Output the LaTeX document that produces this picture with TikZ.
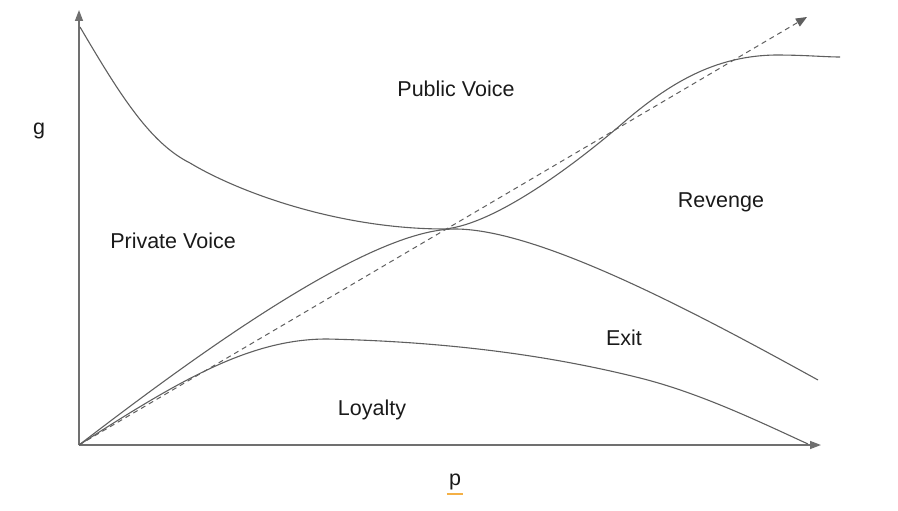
\documentclass[tikz,border=0pt]{standalone}
\usepackage{fontspec}
\setmainfont{Liberation Sans}
\usetikzlibrary{arrows.meta}
\definecolor{linegray}{HTML}{5F5F5F}
\definecolor{axisgray}{HTML}{707070}
\definecolor{txt}{HTML}{1A1A1A}
\definecolor{uline}{HTML}{F4B046}
\tikzset{
  axis/.style={draw=axisgray, line width=1.4pt, -{Triangle[length=11pt,width=8pt]}},
  curve/.style={draw=linegray, line width=1.1pt},
  diag/.style={draw=linegray, line width=1pt, dash pattern=on 5pt off 4pt, -{Triangle[length=11pt,width=9pt]}},
  lbl/.style={text=txt, font=\fontsize{21.5}{24}\selectfont, inner sep=0pt}
}
\begin{document}
\begin{tikzpicture}[x=1pt,y=-1pt]
\useasboundingbox (0,0) rectangle (898,511);
\coordinate (O) at (79,445);
\coordinate (ytop) at (79,10);
\coordinate (xend) at (821,445);
\coordinate (dend) at (807,17);
\coordinate (M) at (445,229);
\draw[axis] (O) -- (ytop);
\draw[axis] (O) -- (xend);
\draw[diag] (O) -- (dend);
% curve A: top-left descending to meeting point, then rising
\draw[curve] (80,27) .. controls (120,95) and (150,143) .. (190,163)
  .. controls (240,193) and (340,229) .. (M)
  .. controls (495,224) and (573,166) .. (623,123)
  .. controls (675,78) and (720,56) .. (775,55)
  .. controls (805,55) and (825,57) .. (840,57);
% curve B: origin to hump, then descending
\draw[curve] (O) .. controls (200,352) and (370,229) .. (455,229)
  .. controls (540,229) and (700,315) .. (818,380);
% curve C: loyalty boundary
\draw[curve] (O) .. controls (180,380) and (250,339) .. (327,339)
  .. controls (460,342) and (560,358) .. (640,378)
  .. controls (700,393) and (760,422) .. (808,444);
\node[lbl] (g) at (39,131) {g};
\node[lbl] (pub) at (456,89) {Public Voice};
\node[lbl] (priv) at (173,241) {Private Voice};
\node[lbl] (rev) at (721,202) {Revenge};
\node[lbl] (exit) at (624,338) {Exit};
\node[lbl] (loy) at (372,410) {Loyalty};
\node[lbl] (p) at (455,482) {p};
\draw[uline, line width=2pt] ([xshift=-2pt]p.south west) ++(0,3.5) coordinate (u1) (u1) -- ++(16,0);
\end{tikzpicture}
\end{document}
